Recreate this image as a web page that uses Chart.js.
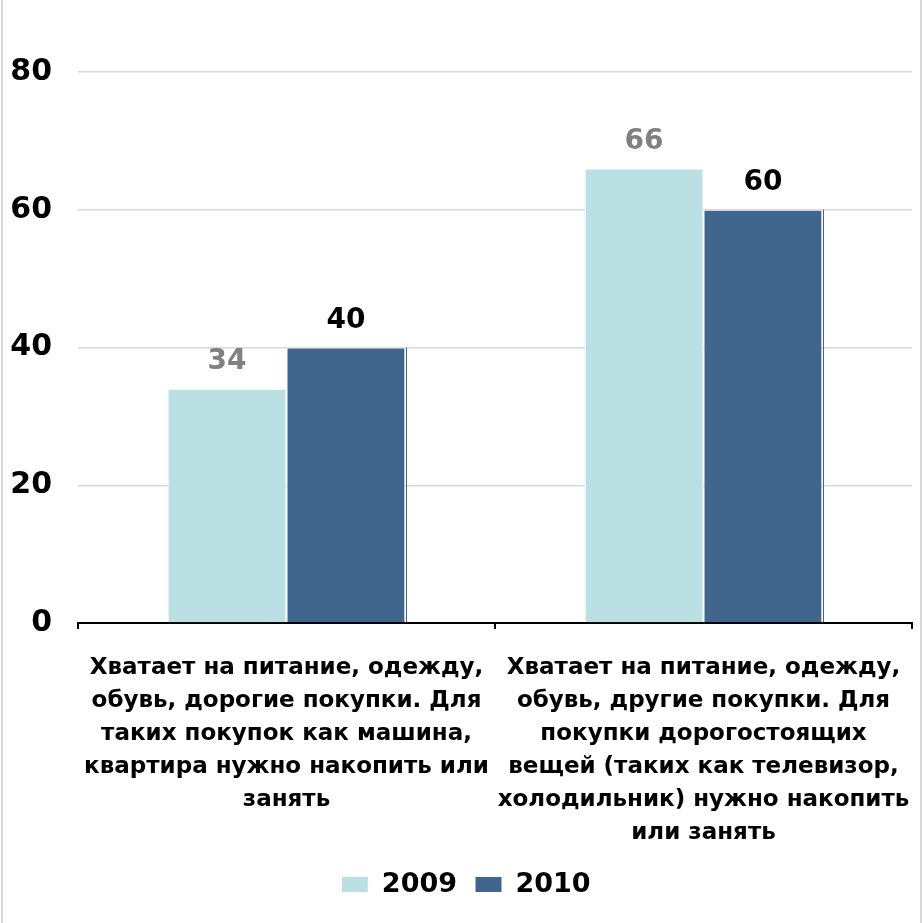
<!DOCTYPE html>
<html lang="ru">
<head>
<meta charset="UTF-8">
<title>Хватает на питание, одежду</title>
<script src="https://cdn.jsdelivr.net/npm/chart.js"></script>
<style>
  html, body { margin: 0; padding: 0; background: #fff; }
  #wrap { position: relative; width: 922px; height: 923px; overflow: hidden; }
  #frame { position: absolute; left: 1px; top: -3px; width: 917px; height: 925px;
           border: 2px solid #d9d9d9; pointer-events: none; }
</style>
</head>
<body>
<div id="wrap">
  <canvas id="barChart" width="922" height="923"></canvas>
  <div id="frame"></div>
</div>
<script>
  // categories (multi-line labels)
  const categories = [
    ['Хватает на питание, одежду,', 'обувь, дорогие покупки. Для', 'таких покупок как машина,', 'квартира нужно накопить или', 'занять'],
    ['Хватает на питание, одежду,', 'обувь, другие покупки. Для', 'покупки дорогостоящих', 'вещей (таких как телевизор,', 'холодильник) нужно накопить', 'или занять']
  ];
  const years = ['2009', '2010'];
  const values2009 = [34, 66];
  const values2010 = [40, 60];
  const yTicks = [0, 20, 40, 60, 80];

  const FONT = '"DejaVu Sans", Verdana, sans-serif';

  // value labels above each bar
  const barLabels = {
    id: 'barLabels',
    afterDatasetsDraw(chart) {
      const ctx = chart.ctx;
      const colors = ['#808080', '#000000'];
      ctx.save();
      ctx.font = 'bold 28px ' + FONT;
      ctx.textAlign = 'center';
      ctx.textBaseline = 'bottom';
      chart.data.datasets.forEach((ds, i) => {
        const meta = chart.getDatasetMeta(i);
        meta.data.forEach((bar, j) => {
          ctx.fillStyle = colors[i];
          ctx.fillText(ds.data[j], bar.x, bar.y - 13);
        });
      });
      ctx.restore();
    }
  };

  // thin dark edge to the right of the 2010 bars
  const barEdge = {
    id: 'barEdge',
    afterDatasetsDraw(chart) {
      const ctx = chart.ctx;
      const meta = chart.getDatasetMeta(1);
      ctx.save();
      ctx.strokeStyle = '#41668e';
      ctx.lineWidth = 1;
      meta.data.forEach(bar => {
        const x = Math.round(bar.x + bar.width / 2) + 1.5;
        ctx.beginPath();
        ctx.moveTo(x, bar.y);
        ctx.lineTo(x, bar.base);
        ctx.stroke();
      });
      ctx.restore();
    }
  };

  // nudge the legend a little to the right
  const legendShift = {
    id: 'legendShift',
    afterLayout(chart) {
      if (chart.legend) chart.legend.left += 20;
    }
  };

  const ctx = document.getElementById('barChart').getContext('2d');
  const chart = new Chart(ctx, {
    type: 'bar',
    data: {
      labels: categories,
      datasets: [{
        label: years[0],
        data: values2009,
        backgroundColor: '#bbe0e3',
        borderColor: '#ffffff',
        borderWidth: 1,
        barPercentage: 1,
        categoryPercentage: 0.57
      }, {
        label: years[1],
        data: values2010,
        backgroundColor: '#41668e',
        borderColor: '#ffffff',
        borderWidth: 1,
        barPercentage: 1,
        categoryPercentage: 0.57
      }]
    },
    options: {
      responsive: false,
      animation: false,
      layout: { padding: { top: 72, right: 10, left: 0, bottom: 15 } },
      plugins: {
        tooltip: { enabled: false },
        legend: {
          position: 'bottom',
          labels: {
            color: '#000',
            font: { family: FONT, size: 27, weight: 'bold' },
            boxWidth: 27,
            boxHeight: 16,
            padding: 18
          }
        }
      },
      scales: {
        x: {
          grid: {
            drawOnChartArea: false,
            drawTicks: true,
            tickLength: 6,
            color: '#000',
            lineWidth: 2
          },
          border: { display: true, color: '#000', width: 2 },
          ticks: {
            color: '#000',
            font: { family: FONT, size: 23, weight: 'bold', lineHeight: 1.43 },
            padding: 23,
            maxRotation: 0,
            autoSkip: false
          },
          afterFit(scale) {
            scale.height = 230;
            scale.paddingLeft = 0;
            scale.paddingRight = 0;
          }
        },
        y: {
          min: 0,
          max: 80,
          afterBuildTicks(scale) { scale.ticks = yTicks.map(v => ({ value: v })); },
          grid: {
            drawTicks: false,
            color: c => (c.tick && c.tick.value === 0) ? 'rgba(0,0,0,0)' : '#d9d9d9',
            lineWidth: 1.5
          },
          border: { display: false },
          ticks: {
            color: '#000',
            font: { family: FONT, size: 30, weight: 'bold' },
            padding: 26
          },
          afterFit(scale) { scale.width = 78; }
        }
      }
    },
    plugins: [barLabels, barEdge, legendShift]
  });
</script>
</body>
</html>
